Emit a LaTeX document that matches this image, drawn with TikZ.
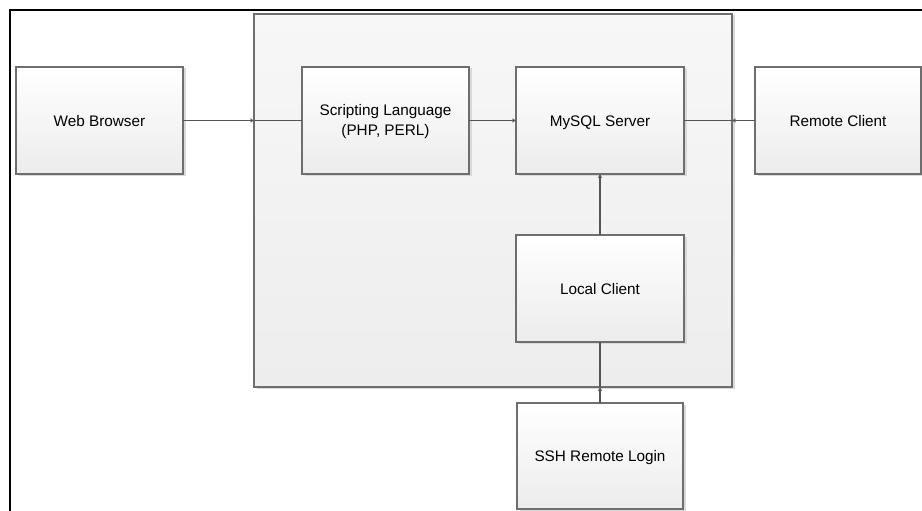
\documentclass[tikz,border=0pt]{standalone}
\usepackage{fontspec}
\setmainfont{Liberation Sans}
\usetikzlibrary{arrows.meta,shadows}
\definecolor{boxline}{HTML}{6E6E6E}
\definecolor{boxbot}{HTML}{ECECEC}
\definecolor{conttop}{HTML}{F7F7F7}
\definecolor{contbot}{HTML}{EDEDED}
\definecolor{linkcol}{HTML}{555555}
\begin{document}
\begin{tikzpicture}[x=1pt,y=-1pt,
  shadowed/.style={drop shadow={shadow xshift=2.5pt,shadow yshift=-1.5pt,fill=black!15,opacity=1}},
  box/.style={shadowed,draw=boxline,line width=1.1pt,top color=white,bottom color=boxbot,
    minimum width=167pt,minimum height=107pt,inner sep=0pt,outer sep=0pt,
    font=\fontsize{15.3}{19.5}\selectfont,align=center,anchor=north west},
  container/.style={shadowed,draw=boxline,line width=1.1pt,top color=conttop,bottom color=contbot,
    minimum width=478pt,minimum height=373pt,inner sep=0pt,outer sep=0pt,anchor=north west},
  link/.style={draw=linkcol,line width=1.1pt},
  tip/.style={link,-{Stealth[length=4pt,width=4pt]}},
  lbl/.style={font=\fontsize{15.3}{19.5}\selectfont,align=center,inner sep=0pt}
]
\useasboundingbox (0,0) rectangle (922,511);
\fill[white] (0,0) rectangle (922,511);
\draw[black,line width=2pt] (10,511) -- (10,10) -- (922,10);

\node[container] (cont) at (254,14) {};

\node[box] (wb) at (16,67) {};
\node[box] (sl) at (302,67) {};
\node[box,minimum width=168pt] (my) at (516,67) {};
\node[box,minimum width=166pt] (rc) at (755,67) {};
\node[box,minimum width=168pt] (lc) at (516,235) {};
\node[box,minimum width=166pt,minimum height=106pt] (ssh) at (517,403) {};

\node[lbl,anchor=base] (twb) at ([yshift=-5.5pt]wb.center) {Web Browser};
\node[lbl,anchor=center] (tsl) at ([yshift=-1pt]sl.center) {Scripting Language\\(PHP, PERL)};
\node[lbl,anchor=base] (tmy) at ([yshift=-5.5pt]my.center) {MySQL Server};
\node[lbl,anchor=base] (trc) at ([yshift=-5.5pt]rc.center) {Remote Client};
\node[lbl,anchor=base] (tlc) at ([yshift=-5.5pt]lc.center) {Local Client};
\node[lbl,anchor=base] (tssh) at ([yshift=-5.5pt]ssh.center) {SSH Remote Login};

\coordinate (inW) at (cont.west |- wb.east);
\coordinate (inE) at (cont.east |- rc.west);
\coordinate (inS) at (cont.south -| ssh.north);

\draw[tip] (wb.east) -- (inW);
\draw[link] (inW) -- (sl.west);
\draw[tip] (sl.east) -- (my.west);
\draw[tip] (rc.west) -- (inE);
\draw[link] (inE) -- (inE -| my.east);
\draw[tip] (lc.north) -- (my.south);
\draw[tip] (ssh.north) -- (inS);
\draw[link] (inS) -- (lc.south);
\end{tikzpicture}
\end{document}
